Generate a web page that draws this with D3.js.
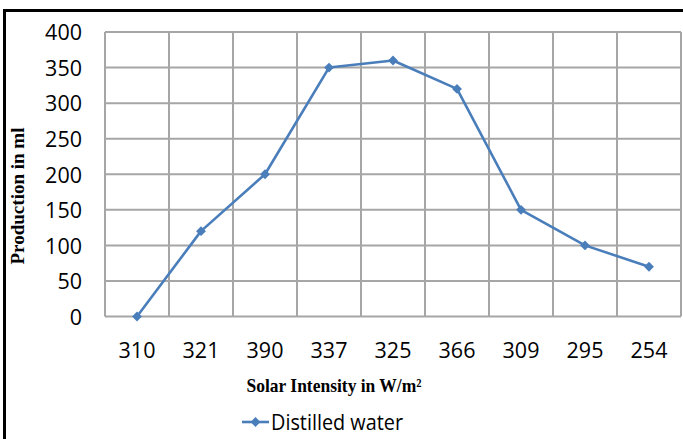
<!DOCTYPE html>
<html>
  <head>
    <meta charset="utf-8">
    <style>
      body { margin: 0; background: #fff; }
      .tick text { font-family: "Open Sans", sans-serif; font-size: 21.5px; fill: #000; }
      .axis-title { font-family: "Liberation Serif", "Times New Roman", serif; font-weight: bold; fill: #000; }
    </style>
  </head>
  <body>
    <div class="chart-container"></div>
    <script src="https://cdn.jsdelivr.net/npm/d3@7"></script>
    <script>

var categories = ['310', '321', '390', '337', '325', '366', '309', '295', '254'];
var production = [0, 120, 200, 350, 360, 320, 150, 100, 70];
var yTicks = [0, 50, 100, 150, 200, 250, 300, 350, 400];
var seriesName = 'Distilled water';

var width = 683;
var height = 439;
var margin = { top: 32, right: 2, bottom: 122, left: 105 };
var blue = '#4a7ebb';
var grey = '#a6a6a6';

var svg = d3.select('.chart-container').append('svg')
    .attr('width', width)
    .attr('height', height);

// outer frame: only top and left edges show
svg.append('path')
    .attr('d', 'M4.5,' + height + 'V10.5H' + width)
    .attr('fill', 'none')
    .attr('stroke', '#000')
    .attr('stroke-width', 3);

var x = d3.scaleBand()
    .domain(categories)
    .range([margin.left, width - margin.right]);

var y = d3.scaleLinear()
    .domain([0, 400])
    .range([height - margin.bottom - 0.5, margin.top]);

var g = svg.append('g');

// horizontal grid
g.selectAll('.hgrid')
  .data(yTicks)
  .enter().append('line')
    .attr('x1', margin.left)
    .attr('x2', width - margin.right)
    .attr('y1', function (d) { return y(d); })
    .attr('y2', function (d) { return y(d); })
    .attr('stroke', grey)
    .attr('stroke-width', 2);

// vertical grid at band edges
var edges = categories.map(function (c) { return x(c); }).concat([width - margin.right]);
g.selectAll('.vgrid')
  .data(edges)
  .enter().append('line')
    .attr('x1', function (d) { return d; })
    .attr('x2', function (d) { return d; })
    .attr('y1', y(400))
    .attr('y2', y(0))
    .attr('stroke', grey)
    .attr('stroke-width', 2);

var yAxis = svg.append('g')
    .attr('transform', 'translate(' + (margin.left - 23) + ',0)')
    .call(d3.axisLeft(y).tickValues(yTicks).tickSize(0).tickPadding(0));
yAxis.select('.domain').remove();
yAxis.selectAll('text').attr('dy', '0.36em');

var xAxis = svg.append('g')
    .attr('transform', 'translate(0,' + (y(0) + 25) + ')')
    .call(d3.axisBottom(x).tickSize(0).tickPadding(0));
xAxis.select('.domain').remove();
xAxis.selectAll('text').attr('dy', '0.75em');

svg.append('text')
    .attr('class', 'axis-title')
    .attr('transform', 'translate(24,196) rotate(-90)')
    .attr('text-anchor', 'middle')
    .attr('font-size', 18)
    .attr('textLength', 137)
    .attr('lengthAdjust', 'spacingAndGlyphs')
    .text('Production in ml');

svg.append('text')
    .attr('class', 'axis-title')
    .attr('x', 334)
    .attr('y', 392)
    .attr('text-anchor', 'middle')
    .attr('font-size', 19)
    .attr('textLength', 175)
    .attr('lengthAdjust', 'spacingAndGlyphs')
    .text('Solar Intensity in W/m\u00b2');

var line = d3.line()
    .x(function (d, i) { return x(categories[i]) + x.bandwidth() / 2; })
    .y(function (d) { return y(d); });

svg.append('path')
    .datum(production)
    .attr('d', line)
    .attr('fill', 'none')
    .attr('stroke', blue)
    .attr('stroke-width', 2.6)
    .attr('stroke-linejoin', 'round');

var diamond = d3.symbol().type(d3.symbolDiamond2).size(62);

svg.selectAll('.marker')
  .data(production)
  .enter().append('path')
    .attr('d', diamond)
    .attr('transform', function (d, i) {
      return 'translate(' + (x(categories[i]) + x.bandwidth() / 2) + ',' + y(d) + ')';
    })
    .attr('fill', blue);

// legend
var lg = svg.append('g').attr('transform', 'translate(242,422)');
lg.append('line')
    .attr('x1', 0).attr('x2', 27)
    .attr('stroke', blue)
    .attr('stroke-width', 2.6);
lg.append('path')
    .attr('d', diamond)
    .attr('transform', 'translate(13.5,0)')
    .attr('fill', blue);
lg.append('text')
    .attr('x', 29)
    .attr('y', 0)
    .attr('dy', '0.36em')
    .attr('font-family', '"Open Sans", sans-serif')
    .attr('font-size', 21.5)
    .attr('textLength', 132)
    .attr('lengthAdjust', 'spacingAndGlyphs')
    .text(seriesName);

    </script>
  </body>
</html>
